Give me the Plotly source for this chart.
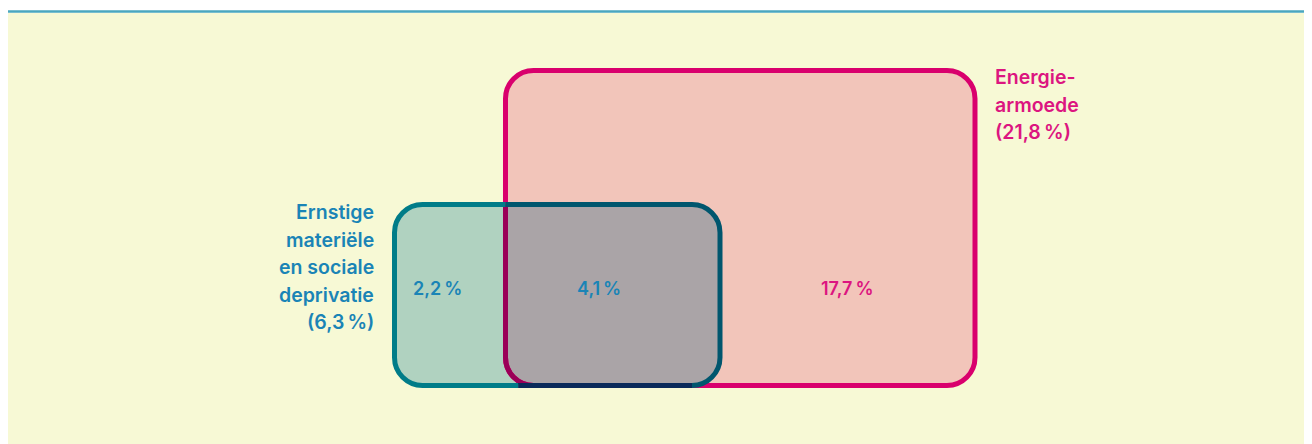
import plotly.graph_objects as go

# ---- data ----
segment_values = [2.2, 4.1, 17.7]          # only deprivation, both, only energy poverty
set_totals = [6.3, 21.8]                   # deprivation, energy poverty
deprivation_lines = ["Ernstige", "materiële", "en sociale", "deprivatie"]
energy_lines = ["Energie-", "armoede"]


def pct(v):
    return f"{v:.1f}".replace(".", ",") + "\u2009%"


# ---- layout geometry (screen pixel space; page body has an 8px margin) ----
W, H = 1312, 444
OFF = 8
P = dict(x0=505.5, x1=975.0, y0=70.5, y1=385.5, r=28)   # energy poverty box
T = dict(x0=394.5, x1=720.0, y0=204.5, y1=385.5, r=28)  # deprivation box
K = 0.5523

BLUE_TXT = "#1A84B6"
PINK_TXT = "#DC1580"
PINK_LINE = "#D9006D"
PINK_FILL = "#F2C5BA"
TEAL_LINE = "#007C88"
TEAL_FILL = "#B0D2C0"
OVER_FILL = "#AAA4A7"
CREAM = "#F7F9D5"
FONT = "Inter"


def rrect(b):
    x0, x1, y0, y1, r = b["x0"], b["x1"], b["y0"], b["y1"], b["r"]
    k = K * r
    return (f"M {x0+r},{y0} L {x1-r},{y0} C {x1-r+k},{y0} {x1},{y0+r-k} {x1},{y0+r} "
            f"L {x1},{y1-r} C {x1},{y1-r+k} {x1-r+k},{y1} {x1-r},{y1} "
            f"L {x0+r},{y1} C {x0+r-k},{y1} {x0},{y1-r+k} {x0},{y1-r} "
            f"L {x0},{y0+r} C {x0},{y0+r-k} {x0+r-k},{y0} {x0+r},{y0} Z")


kt, kp = K * T["r"], K * P["r"]
rt, rp = T["r"], P["r"]

overlap = (f"M {P['x0']},{T['y0']} L {T['x1']-rt},{T['y0']} "
           f"C {T['x1']-rt+kt},{T['y0']} {T['x1']},{T['y0']+rt-kt} {T['x1']},{T['y0']+rt} "
           f"L {T['x1']},{T['y1']-rt} C {T['x1']},{T['y1']-rt+kt} {T['x1']-rt+kt},{T['y1']} {T['x1']-rt},{T['y1']} "
           f"L {P['x0']+rp},{P['y1']} C {P['x0']+rp-kp},{P['y1']} {P['x0']},{P['y1']-rp+kp} {P['x0']},{P['y1']-rp} Z")

pink_inside = (f"M {P['x0']},{T['y0']} L {P['x0']},{P['y1']-rp} "
               f"C {P['x0']},{P['y1']-rp+kp} {P['x0']+rp-kp},{P['y1']} {P['x0']+rp},{P['y1']}")

split_x = P["x0"] + rp * 0.45
teal_left = (f"M {P['x0']},{T['y0']} L {T['x0']+rt},{T['y0']} "
             f"C {T['x0']+rt-kt},{T['y0']} {T['x0']},{T['y0']+rt-kt} {T['x0']},{T['y0']+rt} "
             f"L {T['x0']},{T['y1']-rt} C {T['x0']},{T['y1']-rt+kt} {T['x0']+rt-kt},{T['y1']} {T['x0']+rt},{T['y1']} "
             f"L {split_x},{T['y1']}")
teal_right = (f"M {P['x0']},{T['y0']} L {T['x1']-rt},{T['y0']} "
              f"C {T['x1']-rt+kt},{T['y0']} {T['x1']},{T['y0']+rt-kt} {T['x1']},{T['y0']+rt} "
              f"L {T['x1']},{T['y1']-rt} C {T['x1']},{T['y1']-rt+kt} {T['x1']-rt+kt},{T['y1']} {T['x1']-rt},{T['y1']}")
teal_bottom = f"M {split_x},{T['y1']} L {T['x1']-rt},{T['y1']}"

shapes = [
    dict(type="rect", x0=0, x1=W + 20, y0=13, y1=H + 20, fillcolor=CREAM, line=dict(width=0), layer="below"),
    dict(type="line", x0=0, x1=W + 20, y0=11.5, y1=11.5, line=dict(color="#4AA7BF", width=2.5)),
    dict(type="path", path=rrect(P), fillcolor=PINK_FILL, line=dict(width=0)),
    dict(type="path", path=rrect(T), fillcolor=TEAL_FILL, line=dict(width=0)),
    dict(type="path", path=overlap, fillcolor=OVER_FILL, line=dict(width=0)),
    dict(type="path", path=rrect(P), fillcolor="rgba(0,0,0,0)", line=dict(color=PINK_LINE, width=5)),
    dict(type="path", path=pink_inside, line=dict(color="#9A0058", width=5)),
    dict(type="path", path=teal_left, line=dict(color=TEAL_LINE, width=5)),
    dict(type="path", path=teal_right, line=dict(color="#00566E", width=5)),
    dict(type="path", path=teal_bottom, line=dict(color="#0A2A5A", width=5)),
]

annotations = []
LBL = dict(family=FONT, size=19.5, weight=600)
# deprivation label (right aligned, left of box)
dep_lines = deprivation_lines + [f"({pct(set_totals[0])})"]
for i, t in enumerate(dep_lines):
    annotations.append(dict(x=376, y=212 + i * 27.5, text=t, xanchor="right", yanchor="middle",
                            showarrow=False, font=dict(LBL, color=BLUE_TXT)))
# energy label (left aligned, right of box)
en_lines = energy_lines + [f"({pct(set_totals[1])})"]
for i, t in enumerate(en_lines):
    annotations.append(dict(x=993, y=77 + i * 27.5, text=t, xanchor="left", yanchor="middle",
                            showarrow=False, font=dict(LBL, color=PINK_TXT)))
# segment values
seg_x = [437, 599, 847]
seg_col = [BLUE_TXT, BLUE_TXT, PINK_TXT]
for v, x, c in zip(segment_values, seg_x, seg_col):
    annotations.append(dict(x=x, y=288, text=pct(v), xanchor="center", yanchor="middle",
                            showarrow=False, font=dict(family=FONT, size=18, color=c, weight=600)))

fig = go.Figure()
fig.add_trace(go.Scatter(x=[OFF, W], y=[OFF, H], mode="markers", marker=dict(opacity=0), hoverinfo="skip",
                         showlegend=False))
fig.update_layout(
    width=W, height=H, margin=dict(l=0, r=0, t=0, b=0),
    paper_bgcolor="white", plot_bgcolor="white",
    xaxis=dict(range=[OFF, W + OFF], visible=False, fixedrange=True),
    yaxis=dict(range=[H + OFF, OFF], visible=False, fixedrange=True),
    shapes=shapes, annotations=annotations, showlegend=False,
)
fig.write_html("out.html")
